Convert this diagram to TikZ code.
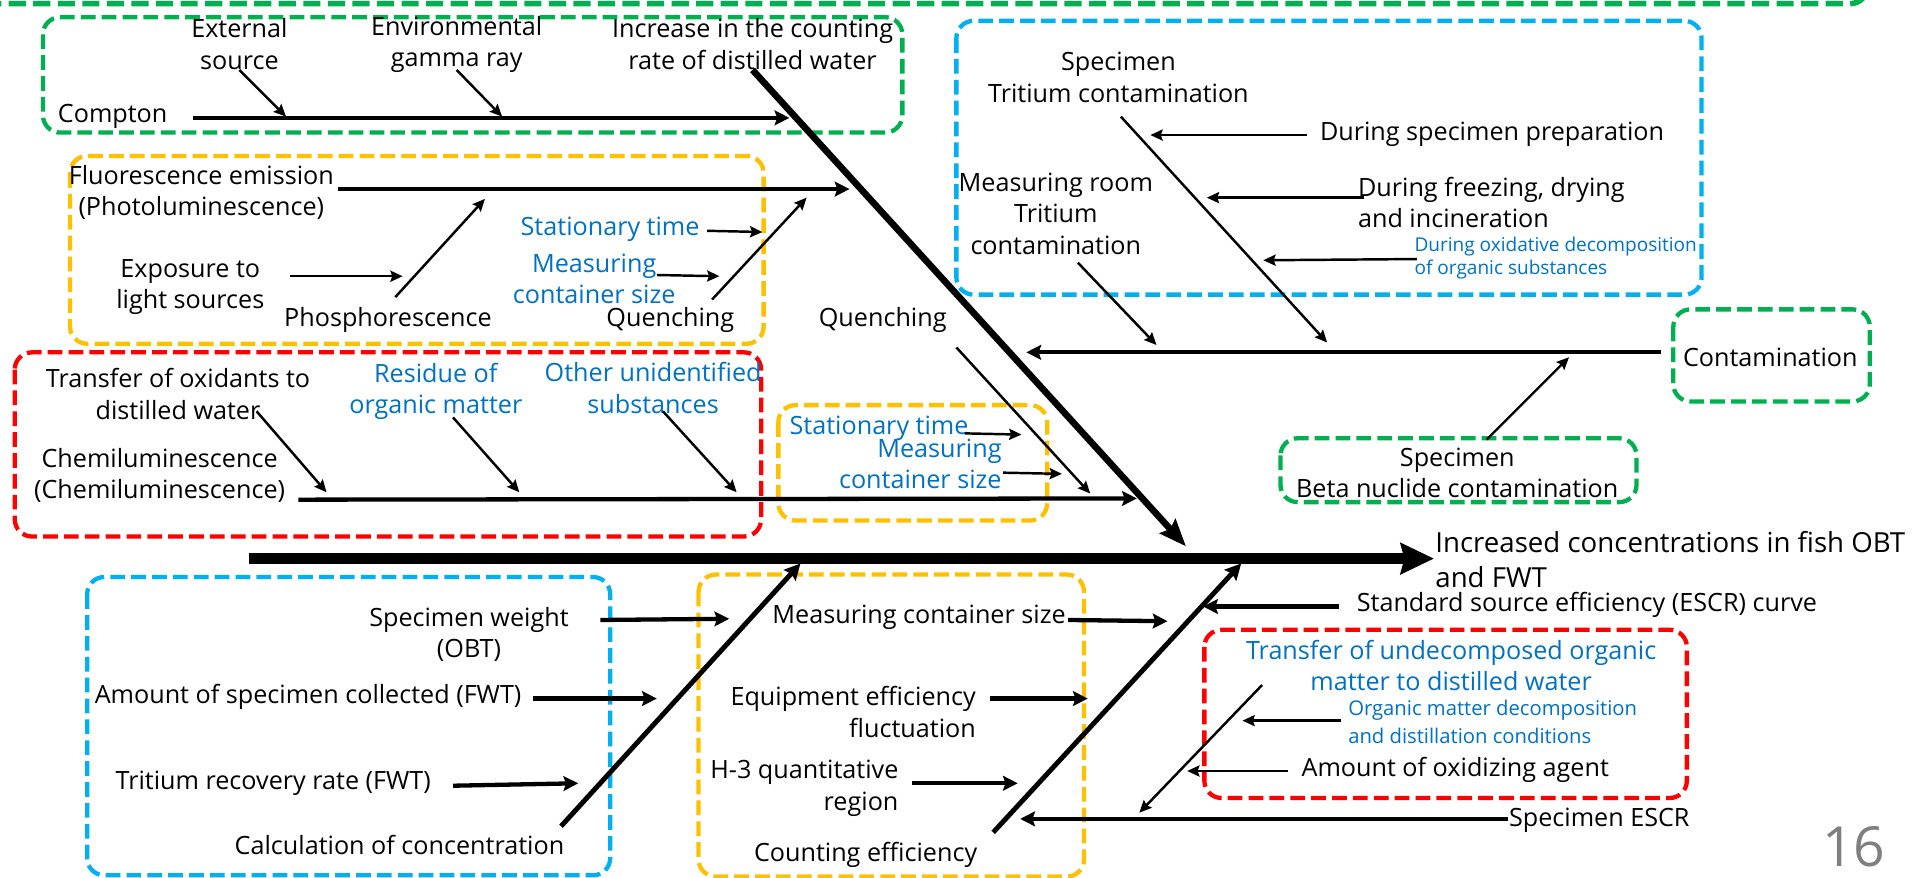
\documentclass[tikz,border=0pt]{standalone}
\usepackage{fontspec}
\setmainfont{Open Sans}
\usetikzlibrary{arrows.meta}
\definecolor{grn}{HTML}{00B050}
\definecolor{ylw}{HTML}{FFC000}
\definecolor{rd}{HTML}{FF0000}
\definecolor{cyn}{HTML}{00B0F0}
\definecolor{txtblue}{HTML}{0070C0}
\definecolor{pagegray}{HTML}{7F7F7F}

\tikzset{
  lbl/.style={font=\fontsize{20.5}{25.5}\selectfont, inner sep=0pt, align=center},
  note/.style={lbl, text=txtblue},
  smallnote/.style={inner sep=0pt, text=txtblue, align=left},
  frame/.style={rounded corners=14pt, line width=3.5pt, dash pattern=on 12pt off 5pt},
  thinarrow/.style={line width=2pt, -{Stealth[length=10pt,width=9pt,inset=1.5pt]}},
  brancharrow/.style={line width=3.5pt, -{Stealth[length=12pt,width=12pt,inset=2pt]}},
  bonearrow/.style={line width=4pt, -{Stealth[length=13pt,width=13pt,inset=2pt]}},
  diagarrow/.style={line width=5.4pt, -{Stealth[length=22pt,width=17pt,inset=3pt]}},
  spinearrow/.style={line width=9pt, -{Stealth[length=27pt,width=25pt,inset=3pt]}},
}

\begin{document}
\begin{tikzpicture}[x=1pt,y=-1pt]
\useasboundingbox (0,0) rectangle (1568,715);

% ---------- dashed group frames ----------
\begin{scope}
  \clip (0,0) rectangle (1568,715);
  \draw[frame, draw=grn, line width=4.5pt, dash pattern=on 14pt off 6pt] (-30,-80) rectangle (1521,3);
\end{scope}
\draw[frame, draw=grn] (35,14) rectangle (735,108);
\draw[frame, draw=ylw] (57,127) rectangle (622,280);
\draw[frame, draw=rd]  (12,287) rectangle (620,437);
\draw[frame, draw=ylw] (634,330) rectangle (853,424);
\draw[frame, draw=cyn] (779,17) rectangle (1386,240);
\draw[frame, draw=grn] (1363,252) rectangle (1523,327);
\draw[frame, draw=grn] (1043,357) rectangle (1333,409);
\draw[frame, draw=cyn] (71,470) rectangle (497,713);
\draw[frame, draw=ylw] (569,468) rectangle (883,714);
\draw[frame, draw=rd]  (981,513) rectangle (1374,650);

% ---------- labels ----------
\node[lbl] (ext)  at (195,36) {External\\source};
\node[lbl] (env)  at (372,36) {Environmental\\gamma ray};
\node[lbl] (incr) at (613,36) {Increase in the counting\\rate of distilled water};
\node[lbl, anchor=west] (compton) at (47,95) {Compton};

\node[lbl] (fluor) at (164,157) {Fluorescence emission\\(Photoluminescence)};
\node[note, anchor=east] (stat1) at (570,187) {Stationary time};
\node[note] (meas1) at (484,227) {Measuring\\container size};
\node[lbl] (expo) at (155,234) {Exposure to\\light sources};
\node[lbl] (phos) at (316,261) {Phosphorescence};
\node[lbl] (quen1) at (546,261) {Quenching};
\node[lbl] (quen2) at (719,261) {Quenching};

\node[lbl] (trox) at (145,321) {Transfer of oxidants to\\distilled water};
\node[note] (resid) at (355,319) {Residue of\\organic matter};
\node[note] (other) at (532,316) {Other unidentified\\substances};
\node[lbl] (chemi) at (130,387) {Chemiluminescence\\(Chemiluminescence)};
\node[note, anchor=west] (stat2) at (643,349) {Stationary time};
\node[note, anchor=east, align=right] (meas2) at (816,378) {Measuring\\container size};

\node[lbl] (spect) at (911,63) {Specimen\\Tritium contamination};
\node[lbl, anchor=west] (prep) at (1075,109) {During specimen preparation};
\node[lbl, anchor=west, align=left] (freez) at (1106,165) {During freezing, drying\\and incineration};
\node[smallnote, anchor=west, font=\fontsize{15.5}{19}\selectfont] (oxid) at (1152,210) {During oxidative decomposition\\of organic substances};
\node[lbl] (room) at (860,174) {Measuring room\\Tritium\\contamination};
\node[lbl] (contam) at (1442,291) {Contamination};
\node[lbl] (beta) at (1187,385) {Specimen\\Beta nuclide contamination};

\node[lbl, anchor=west, align=left, font=\fontsize{22.5}{28.5}\selectfont] (result) at (1169,456) {Increased concentrations in fish OBT\\and FWT};

\node[lbl] (wgt) at (382,517) {Specimen weight\\(OBT)};
\node[lbl, anchor=west] (amount) at (77,568) {Amount of specimen collected (FWT)};
\node[lbl, anchor=west] (recov) at (94,638) {Tritium recovery rate (FWT)};
\node[lbl, anchor=west] (calc) at (191,688) {Calculation of concentration};
\node[lbl, anchor=west] (mcs) at (629,503) {Measuring container size};
\node[lbl, anchor=east, align=right] (equip) at (795,580) {Equipment efficiency\\fluctuation};
\node[lbl, anchor=east, align=right] (h3) at (732,642) {H-3 quantitative\\region};
\node[lbl, anchor=west] (count) at (614,696) {Counting efficiency};

\node[lbl, anchor=west] (escr) at (1105,493) {Standard source efficiency (ESCR) curve};
\node[note] (undec) at (1182,542) {Transfer of undecomposed organic\\matter to distilled water};
\node[smallnote, anchor=west, font=\fontsize{16.5}{23}\selectfont] (orgdec) at (1098,588) {Organic matter decomposition\\and distillation conditions};
\node[lbl, anchor=west] (oxag) at (1060,627) {Amount of oxidizing agent};
\node[lbl, anchor=west] (sescr) at (1229,668) {Specimen ESCR};
\node[inner sep=0pt, text=pagegray, font=\fontsize{45}{50}\selectfont] (pgnum) at (1510,690) {16};

% ---------- connector end points ----------
\coordinate (comptonS) at (157,96);   \coordinate (comptonE) at (643,96);
\coordinate (extS) at (195,57);       \coordinate (extE) at (233,95);
\coordinate (envS) at (372,57);       \coordinate (envE) at (409,95);
\coordinate (topS) at (613,57);       \coordinate (topE) at (966,445);
\coordinate (fluorS) at (275,154);    \coordinate (fluorE) at (692,154);
\coordinate (stat1S) at (576,188);    \coordinate (stat1E) at (621,189);
\coordinate (meas1S) at (535,224);    \coordinate (meas1E) at (586,225);
\coordinate (expoS) at (236,225);     \coordinate (expoE) at (328,225);
\coordinate (phosS) at (322,242);     \coordinate (phosE) at (395,162);
\coordinate (quen1S) at (580,244);    \coordinate (quen1E) at (657,161);
\coordinate (quen2S) at (779,283);    \coordinate (quen2E) at (888,402);
\coordinate (chemiS) at (243,407);    \coordinate (chemiE) at (926,406);
\coordinate (troxS) at (209,335);     \coordinate (troxE) at (266,401);
\coordinate (residS) at (369,340);    \coordinate (residE) at (423,401);
\coordinate (otherS) at (540,335);    \coordinate (otherE) at (600,401);
\coordinate (stat2S) at (786,353);    \coordinate (stat2E) at (832,354);
\coordinate (meas2S) at (817,385);    \coordinate (meas2E) at (865,386);
\coordinate (spectS) at (913,95);     \coordinate (spectE) at (1081,279);
\coordinate (prepS) at (1065,110);    \coordinate (prepE) at (937,110);
\coordinate (freezS) at (1111,161);   \coordinate (freezE) at (983,161);
\coordinate (oxidS) at (1154,211);    \coordinate (oxidE) at (1029,212);
\coordinate (roomS) at (878,214);     \coordinate (roomE) at (942,281);
\coordinate (contamS) at (1353,287);  \coordinate (contamE) at (836,287);
\coordinate (betaS) at (1211,358);    \coordinate (betaE) at (1278,291);
\coordinate (spineS) at (203,455);    \coordinate (spineE) at (1168,455);
\coordinate (wgtS) at (489,505);      \coordinate (wgtE) at (594,504);
\coordinate (amountS) at (434,569);   \coordinate (amountE) at (535,569);
\coordinate (recovS) at (369,640);    \coordinate (recovE) at (471,638);
\coordinate (calcS) at (457,673);     \coordinate (calcE) at (652,459);
\coordinate (mcsS) at (870,505);      \coordinate (mcsE) at (951,506);
\coordinate (equipS) at (806,569);    \coordinate (equipE) at (886,569);
\coordinate (h3S) at (743,638);       \coordinate (h3E) at (829,638);
\coordinate (countS) at (809,678);    \coordinate (countE) at (1011,459);
\coordinate (escrS) at (1091,494);    \coordinate (escrE) at (980,494);
\coordinate (orgdecS) at (1092,587);  \coordinate (orgdecE) at (1012,587);
\coordinate (oxagS) at (1049,628);    \coordinate (oxagE) at (967,628);
\coordinate (undecS) at (1028,558);   \coordinate (undecE) at (928,662);
\coordinate (sescrS) at (1228,667);   \coordinate (sescrE) at (831,667);

% ---------- fishbone ----------
\draw[spinearrow] (spineS) -- (spineE);
\draw[diagarrow] (topS) -- (topE);

\draw[brancharrow] (comptonS) -- (comptonE);
\draw[thinarrow] (extS) -- (extE);
\draw[thinarrow] (envS) -- (envE);

\draw[brancharrow] (fluorS) -- (fluorE);
\draw[thinarrow] (stat1S) -- (stat1E);
\draw[thinarrow] (meas1S) -- (meas1E);
\draw[thinarrow] (expoS) -- (expoE);
\draw[thinarrow] (phosS) -- (phosE);
\draw[thinarrow] (quen1S) -- (quen1E);
\draw[thinarrow] (quen2S) -- (quen2E);

\draw[brancharrow] (chemiS) -- (chemiE);
\draw[thinarrow] (troxS) -- (troxE);
\draw[thinarrow] (residS) -- (residE);
\draw[thinarrow] (otherS) -- (otherE);
\draw[thinarrow] (stat2S) -- (stat2E);
\draw[thinarrow] (meas2S) -- (meas2E);

\draw[thinarrow] (spectS) -- (spectE);
\draw[thinarrow] (prepS) -- (prepE);
\draw[thinarrow] (freezS) -- (freezE);
\draw[thinarrow] (oxidS) -- (oxidE);
\draw[thinarrow] (roomS) -- (roomE);
\draw[brancharrow] (contamS) -- (contamE);
\draw[thinarrow] (betaS) -- (betaE);

\draw[brancharrow] (wgtS) -- (wgtE);
\draw[brancharrow] (amountS) -- (amountE);
\draw[brancharrow] (recovS) -- (recovE);
\draw[bonearrow] (calcS) -- (calcE);
\draw[brancharrow] (mcsS) -- (mcsE);
\draw[brancharrow] (equipS) -- (equipE);
\draw[brancharrow] (h3S) -- (h3E);
\draw[bonearrow] (countS) -- (countE);

\draw[brancharrow] (escrS) -- (escrE);
\draw[thinarrow] (orgdecS) -- (orgdecE);
\draw[thinarrow] (oxagS) -- (oxagE);
\draw[thinarrow] (undecS) -- (undecE);
\draw[brancharrow] (sescrS) -- (sescrE);
\end{tikzpicture}
\end{document}
